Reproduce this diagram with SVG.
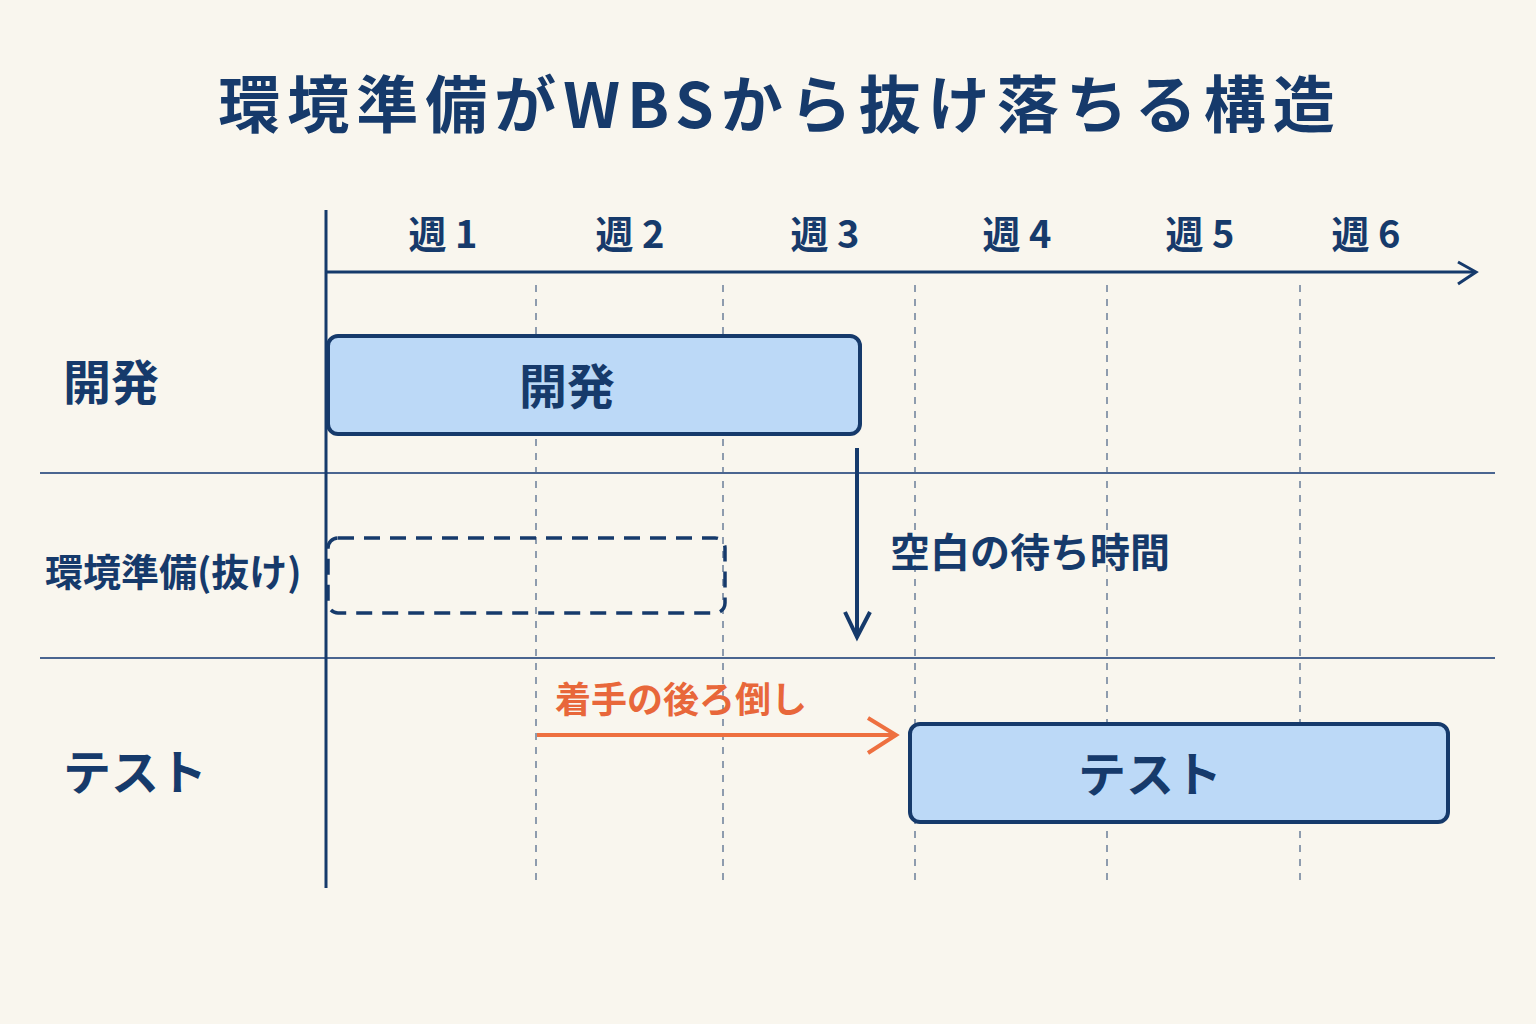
<svg xmlns="http://www.w3.org/2000/svg" width="1536" height="1024" viewBox="0 0 1536 1024">
<style>
text{font-family:"Noto Sans CJK JP","Noto Sans",sans-serif;fill:#163a6b;font-weight:bold}
.ax{stroke:#163a6b;stroke-width:3;fill:none}
.grid{stroke:#6b7f99;stroke-width:1.5;stroke-dasharray:7 7}
.sep{stroke:#4a6590;stroke-width:2}
.bar{fill:#bcd9f7;stroke:#163a6b;stroke-width:4}
</style>
<rect width="1536" height="1024" fill="#f9f6ee"/>
<text x="780" y="128" font-size="62" text-anchor="middle" letter-spacing="7">環境準備がWBSから抜け落ちる構造</text>
<g id="grid">
<line class="grid" x1="536" y1="285" x2="536" y2="880"/>
<line class="grid" x1="723" y1="285" x2="723" y2="880"/>
<line class="grid" x1="915" y1="285" x2="915" y2="880"/>
<line class="grid" x1="1107" y1="285" x2="1107" y2="880"/>
<line class="grid" x1="1300" y1="285" x2="1300" y2="880"/>
<line class="sep" x1="40" y1="473" x2="1495" y2="473"/>
<line class="sep" x1="40" y1="658" x2="1495" y2="658"/>
</g>
<g id="axes">
<line class="ax" x1="326" y1="210" x2="326" y2="888"/>
<line class="ax" x1="326" y1="272" x2="1475" y2="272"/>
<path class="ax" d="M1458,262 L1476,272 L1458,284"/>
<g font-size="38" text-anchor="middle">
<text x="443" y="248">週 1</text><text x="630" y="248">週 2</text><text x="825" y="248">週 3</text>
<text x="1017" y="248">週 4</text><text x="1200" y="248">週 5</text><text x="1366" y="248">週 6</text>
</g>
</g>
<g id="labels" font-size="48">
<text x="63" y="400">開発</text>
<text x="45" y="586" font-size="38">環境準備(抜け)</text>
<text x="63" y="790">テスト</text>
</g>
<g id="dev"><rect class="bar" x="328" y="336" width="532" height="98" rx="10"/><text x="567" y="404" font-size="48" text-anchor="middle">開発</text></g>
<g id="env"><rect x="328" y="538" width="397" height="75" rx="10" fill="none" stroke="#163a6b" stroke-width="3.5" stroke-dasharray="16 10"/></g>
<g id="test"><rect class="bar" x="910" y="724" width="538" height="98" rx="10"/><text x="1150" y="792" font-size="48" text-anchor="middle">テスト</text></g>
<g id="connectors">
<line x1="857" y1="448" x2="857" y2="636" stroke="#163a6b" stroke-width="4"/>
<path d="M845,612 L857,637 L870,612" fill="none" stroke="#163a6b" stroke-width="4"/>
<line x1="537" y1="735" x2="895" y2="735" stroke="#ee7040" stroke-width="4"/>
<path d="M868,718 L896,735 L868,753" fill="none" stroke="#ee7040" stroke-width="4"/>
</g>
<text x="890" y="567" font-size="40">空白の待ち時間</text>
<text x="555" y="713" font-size="36" style="fill:#e8673a">着手の後ろ倒し</text>
</svg>
